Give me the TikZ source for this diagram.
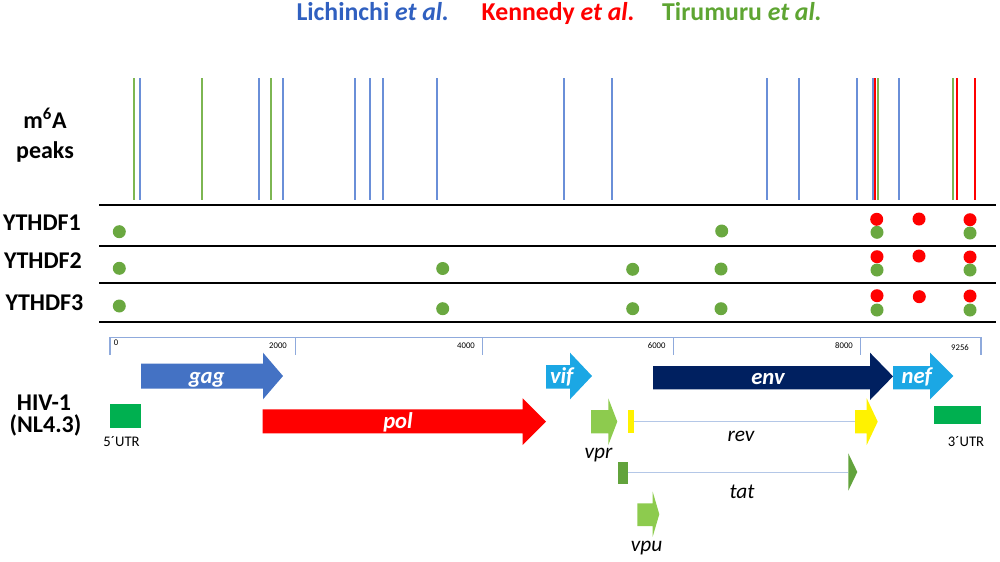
\documentclass[tikz,border=0pt]{standalone}
\usepackage{fontspec}
\setmainfont{Carlito}
\definecolor{lichblue}{HTML}{3060C0}
\definecolor{kenred}{HTML}{FF0000}
\definecolor{tirgreen}{HTML}{5EA532}
\definecolor{peakblue}{HTML}{6A8FD8}
\definecolor{peakgreen}{HTML}{7DB652}
\definecolor{dotgreen}{HTML}{6AA840}
\definecolor{axisblue}{HTML}{8FAADC}
\definecolor{gagblue}{HTML}{4472C4}
\definecolor{lightblue}{HTML}{1BA7E4}
\definecolor{navy}{HTML}{002060}
\definecolor{lgreen}{HTML}{8DCB4E}
\definecolor{dgreen}{HTML}{62A33C}
\definecolor{utrgreen}{HTML}{00B050}
\definecolor{thinline}{HTML}{B4C7E7}
\newcommand{\genearr}[8]{%
  \fill[#8] (#1,#4) -- (#2,#4) -- (#2,#6) -- (#3,{(#6+#7)/2}) -- (#2,#7) -- (#2,#5) -- (#1,#5) -- cycle;}
\tikzset{
  leg/.style={font=\fontsize{19.3}{22}\selectfont\bfseries, anchor=base},
  lab/.style={font=\fontsize{18}{21}\selectfont\bfseries, anchor=base},
  peakb/.style={draw=peakblue, line width=1.3pt},
  peakg/.style={draw=peakgreen, line width=1.3pt},
  peakr/.style={draw=kenred, line width=1.3pt},
  rowline/.style={draw=black, line width=1.5pt},
  gdot/.style={fill=dotgreen},
  rdot/.style={fill=kenred},
  tick/.style={font=\fontsize{6.5}{8}\selectfont, anchor=base},
  glab/.style={font=\fontsize{17}{20}\selectfont\bfseries\itshape, text=white, anchor=base},
  ilab/.style={font=\fontsize{16}{19}\selectfont\itshape, anchor=base},
  ulab/.style={font=\fontsize{11}{13}\selectfont, anchor=base}
}
\begin{document}
\begin{tikzpicture}[x=0.75pt,y=-0.75pt]
\useasboundingbox (0,0) rectangle (1000,561);
% legend
\node[leg, text=lichblue] (l1) at (372.8,20.7) {Lichinchi \textit{et al.}};
\node[leg, text=kenred] (l2) at (558.2,20.7) {Kennedy \textit{et al.}};
\node[leg, text=tirgreen] (l3) at (742,20.7) {Tirumuru \textit{et al.}};
% left labels
\node[lab] (m6a) at (45,128.3) {m\textsuperscript{6}A};
\node[lab] (pk) at (45,158.3) {peaks};
\node[lab] (y1) at (42,230.7) {YTHDF1};
\node[lab] (y2) at (43,268.3) {YTHDF2};
\node[lab] (y3) at (44.5,310.7) {YTHDF3};
\node[lab] (hiv) at (44,410) {HIV-1};
\node[lab] (nl) at (45.5,432) {(NL4.3)};
% peaks
\foreach \x in {140,259.3,282.7,355,370,383,436.7,564,611.7,766.7,799,856.7,872.7,899}
  \draw[peakb] (\x,78.3) -- (\x,200);
\foreach \x in {134.3,201.7,271,878.3,953.3}
  \draw[peakg] (\x,78.3) -- (\x,200);
\foreach \x in {875.3,957,975.3}
  \draw[peakr] (\x,78.3) -- (\x,200);
% row lines
\foreach \y in {205,245.7,283.3,321.7}
  \draw[rowline] (99.3,\y) -- (995.7,\y);
% dots
\foreach \x/\y in {119.3/231.7,721.7/231,877/232.3,970/233,
                   119.3/268.3,442.7/268.5,632.7/269.3,721/269,877/270,970/270,
                   119.3/306,442.7/308.7,632.7/308.7,721/308.7,877/310,970/310}
  \fill[gdot] (\x,\y) circle[radius=6.5];
\foreach \x/\y in {876.7/219.3,919/219,970/219.7,
                   877/256.7,919/256,970/257,
                   877/295.7,919.3/296.7,970/296}
  \fill[rdot] (\x,\y) circle[radius=6.5];
% axis
\draw[axisblue, line width=0.9pt] (110,355) -- (110,337.3) -- (981,337.3) -- (981,355);
\foreach \x in {295.7,482.7,673.3,860.3}
  \draw[axisblue, line width=0.9pt] (\x,337.3) -- (\x,355);
\node[tick] (t0) at (116,345.3) {0};
\node[tick] (t2) at (278,348.3) {2000};
\node[tick] (t4) at (466,348.3) {4000};
\node[tick] (t6) at (656.7,348.3) {6000};
\node[tick] (t8) at (844,348) {8000};
\node[tick] (t9) at (960,350.7) {9256};
% genes
\genearr{141}{263}{283}{363.5}{388.5}{352.7}{399.3}{gagblue}
\genearr{262.7}{522.7}{546}{409.3}{433.3}{398.3}{445}{kenred}
\genearr{546}{570}{592}{365}{388.5}{352.7}{399.3}{lightblue}
\genearr{653}{870}{893}{366}{389.3}{352.7}{400}{navy}
\genearr{893}{930}{953.3}{366}{389.3}{352.7}{399.3}{lightblue}
\genearr{591}{608.3}{617.3}{410}{433.3}{398.3}{445}{lgreen}
\genearr{637.3}{652.7}{659.3}{503.3}{526}{491.7}{536.7}{lgreen}
% rev
\fill[yellow] (628.3,410) rectangle (634.3,433.3);
\draw[thinline, line width=0.8pt] (634.3,421.7) -- (855,421.7);
\genearr{855}{866.7}{877.7}{410}{433.3}{398.3}{445}{yellow}
% tat
\fill[dgreen] (617.7,461.7) rectangle (628.3,484.3);
\draw[thinline, line width=0.8pt] (628.3,472.3) -- (848.3,472.3);
\fill[dgreen] (848.3,453.3) -- (857.3,472) -- (848.3,490.7) -- cycle;
% UTRs
\fill[utrgreen] (110,404.3) rectangle (141,427.7);
\fill[utrgreen] (934.3,406) rectangle (981,424.3);
% gene labels
\node[glab] (gag) at (206.7,383) {gag};
\node[glab] (pol) at (398,428.3) {pol};
\node[glab] (vif) at (561.7,383.3) {vif};
\node[glab] (env) at (768,384) {env};
\node[glab] (nef) at (916.7,383.5) {nef};
\node[ilab] (rev) at (741,441.7) {rev};
\node[ilab] (tat) at (742,498.3) {tat};
\node[ilab] (vpr) at (598.5,458.3) {vpr};
\node[ilab] (vpu) at (646.5,551.7) {vpu};
\node[ulab] (u5) at (121.5,446.7) {5´UTR};
\node[ulab] (u3) at (966,446.7) {3´UTR};
\end{tikzpicture}
\end{document}
